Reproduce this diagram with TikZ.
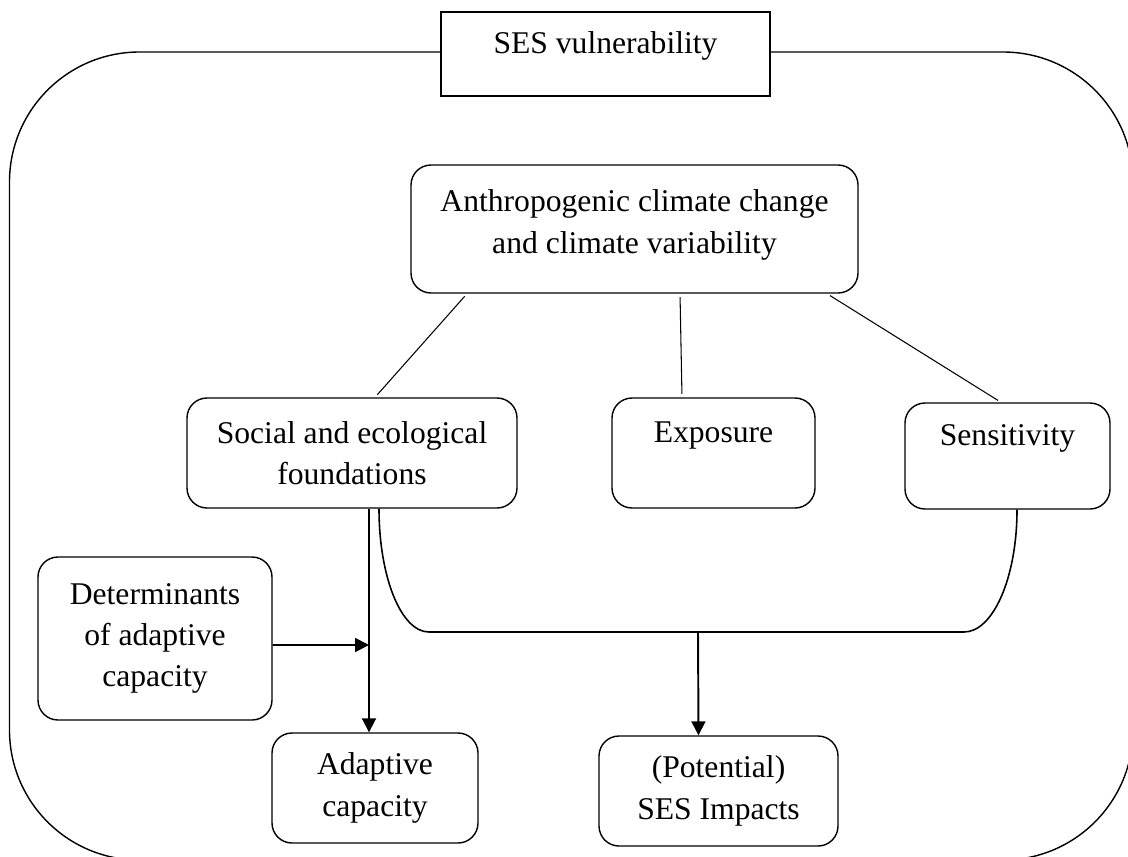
\documentclass[tikz,border=0pt]{standalone}
\usepackage{fontspec}
\setmainfont{Liberation Serif}
\usetikzlibrary{arrows.meta}
\begin{document}
\begin{tikzpicture}[x=0.02cm,y=-0.02cm,
rbox/.style={draw,rounded corners=0.4cm,line width=0.8pt,align=center,inner sep=0pt,font=\fontsize{18}{23.5}\selectfont},
sbox/.style={rbox,rounded corners=0pt},
link/.style={line width=0.6pt,shorten <=2pt,shorten >=2pt},
arr/.style={line width=1.1pt,-{Triangle[length=0.28cm,width=0.28cm]}}]
\def\u{0.02cm}
\useasboundingbox (0,0) rectangle (1128,856);
\clip (0,0) rectangle (1128,856);
\draw[line width=0.8pt,rounded corners=2.6cm] (9.5,52) rectangle (1133,860);
\node[sbox,fill=white,minimum width=329*\u,minimum height=84*\u] (ses) at (605.5,54) {SES vulnerability\\[-10pt]\mbox{}};
\node[rbox,minimum width=447*\u,minimum height=128*\u] (anthro) at (634.5,229) {Anthropogenic climate change\\and climate variability\\[-15pt]\mbox{}};
\node[rbox,minimum width=330*\u,minimum height=110*\u] (soc) at (352,453) {Social and ecological\\foundations};
\node[rbox,minimum width=203*\u,minimum height=110*\u] (expo) at (713.5,453) {Exposure\\\mbox{}};
\node[rbox,minimum width=205*\u,minimum height=106*\u] (sens) at (1007.5,456) {Sensitivity\\\mbox{}};
\node[rbox,minimum width=234*\u,minimum height=163*\u] (det) at (155,638.5) {Determinants\\of adaptive\\capacity};
\node[rbox,minimum width=206*\u,minimum height=110*\u] (adapt) at (375,788) {Adaptive\\capacity};
\node[rbox,minimum width=239*\u,minimum height=110*\u] (impact) at (718.5,791) {(Potential)\\SES Impacts};
\draw[link] ([xshift=-167.5*\u]anthro.south) -- ([xshift=23*\u]soc.north);
\draw[link] ([xshift=45.5*\u]anthro.south) -- ([xshift=-31.5*\u]expo.north);
\draw[link] ([xshift=192.5*\u]anthro.south) -- ([xshift=-6.5*\u]sens.north);
\draw[arr] ([xshift=17*\u]soc.south) -- ([xshift=-6*\u]adapt.north);
\coordinate (hit) at (369,645);
\draw[arr] ([yshift=-6.5*\u]det.east) -- (hit);
\coordinate (jl) at (429,632);
\coordinate (jr) at (964,632);
\coordinate (jm) at (698,632);
\draw[line width=0.9pt] ([xshift=27*\u]soc.south) .. controls +(0,68) and +(-28,0) .. (jl) -- (jr) .. controls +(29,0) and +(0,68) .. ([xshift=9.5*\u]sens.south);
\draw[arr] (jm) -- ([xshift=-20*\u]impact.north);
\end{tikzpicture}
\end{document}
